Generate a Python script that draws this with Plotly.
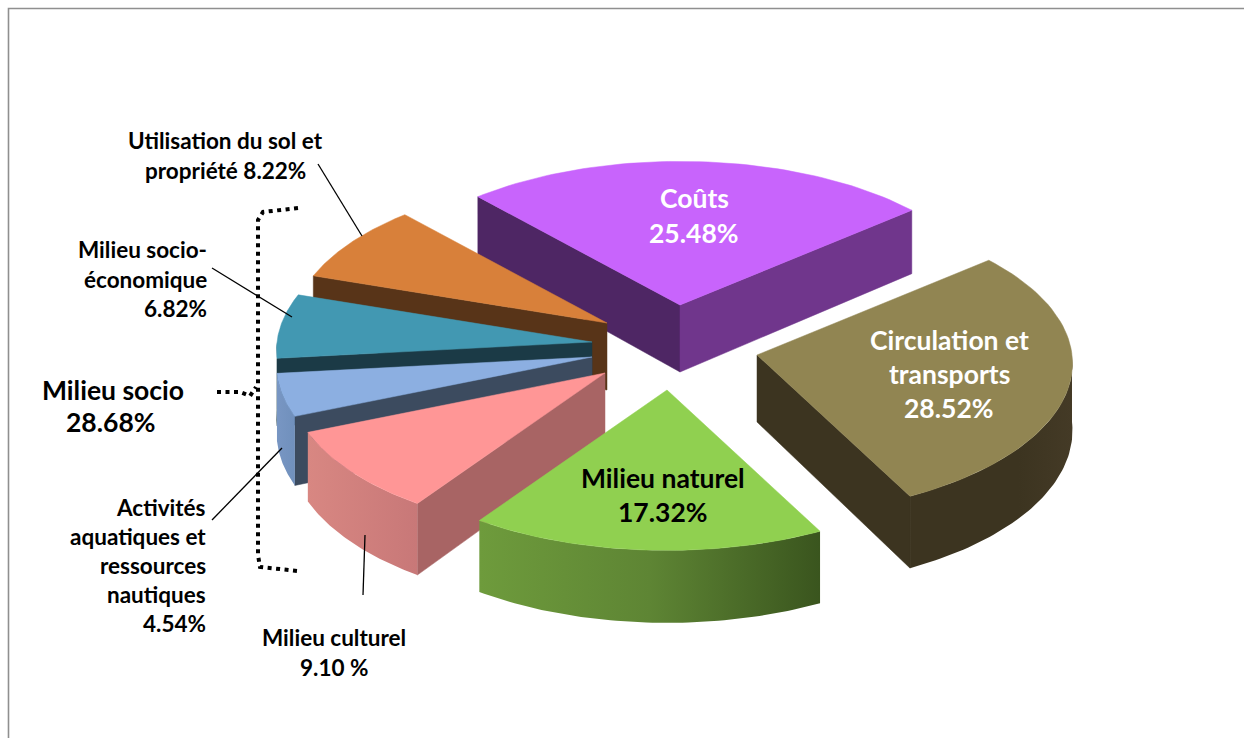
import math
import plotly.graph_objects as go

# ---- data ----
categories = ["Coûts", "Circulation et transports", "Milieu naturel", "Milieu culturel",
              "Activités aquatiques et ressources nautiques", "Milieu socio-économique",
              "Utilisation du sol et propriété"]
values = [25.48, 28.52, 17.32, 9.10, 4.54, 6.82, 8.22]
top_colors = ["#C864FC", "#918552", "#90D050", "#FF9696", "#8CAFE1", "#4298B2", "#D8803A"]
start_face_colors = ["#4E2664", "#3C3420", "#5A8232", "#A86464", "#3C4B5F", "#1B3A46", "#583418"]
end_face_colors = ["#70368C", "#3C3420", "#5A8232", "#A86464", "#3C4B5F", "#1B3A46", "#583418"]
wall_gradients = [
    ["#70368C", "#70368C"],
    ["#3C3420", "#3C3420", "#3C3420", "#443A26"],
    ["#6E9B3C", "#5E8534", "#3A551E"],
    ["#D88782", "#C87878"],
    ["#7896C3", "#7090BC"],
    ["#1B3A46", "#1B3A46"],
    ["#583418", "#583418"],
]
# ---- layout of the exploded pie (pixel space) ----
apexes = [(680, 305), (757, 355), (667, 390), (605, 373), (592, 357), (592, 342), (607, 323)]
draw_order = [0, 6, 5, 4, 3, 2, 1]
START_ANGLE = 132.0
RX, RY, DEPTH, PERSP = 315.0, 152.0, 67.0, 0.055
LARGE, SMALL = 26.5, 22.5

labels = [
    ("Coûts", 694, 198, "center", "white", LARGE),
    ("25.48%", 694, 233, "center", "white", LARGE),
    ("Circulation et", 949, 340, "center", "white", LARGE),
    ("transports", 949, 374, "center", "white", LARGE),
    ("28.52%", 949, 408, "center", "white", LARGE),
    ("Milieu naturel", 663, 478, "center", "black", LARGE),
    ("17.32%", 663, 512, "center", "black", LARGE),
    ("Milieu culturel", 334, 637, "center", "black", SMALL),
    ("9.10 %", 334, 667, "center", "black", SMALL),
    ("Activités", 208, 507, "right", "black", SMALL),
    ("aquatiques et", 208, 536, "right", "black", SMALL),
    ("ressources", 208, 565, "right", "black", SMALL),
    ("nautiques", 208, 594, "right", "black", SMALL),
    ("4.54%", 208, 623, "right", "black", SMALL),
    ("Milieu socio-", 209, 249, "right", "black", SMALL),
    ("économique", 209, 279, "right", "black", SMALL),
    ("6.82%", 209, 308, "right", "black", SMALL),
    ("Utilisation du sol et", 225, 140, "center", "black", SMALL),
    ("propriété 8.22%", 225, 170, "center", "black", SMALL),
    ("Milieu socio", 113, 390, "center", "black", LARGE),
    ("28.68%", 111, 422, "center", "black", LARGE),
]
leaders = [
    [(318, 164), (362, 236)],
    [(212, 268), (292, 317)],
    [(212, 520), (282, 448)],
    [(363, 595), (365, 535)],
]
bracket = [[(298, 208), (275, 210), (263, 212), (258, 220), (258, 555), (260, 567), (298, 571)],
           [(217, 392), (240, 392), (250, 396), (256, 387)]]
frame = [(1244, 8.5), (8.5, 8.5), (8.5, 738)]


def project(apex, theta, drop=0.0):
    s = math.sin(math.radians(theta))
    c = math.cos(math.radians(theta))
    k = 1 - PERSP * s
    depth = DEPTH * (1 - 1.5 * PERSP * s)
    return apex[0] + RX * k * c, apex[1] - RY * k * s + depth * drop


def arc(apex, a0, a1, drop=0.0, n=60):
    return [project(apex, a0 + (a1 - a0) * i / n, drop) for i in range(n + 1)]


def polygon(fig, pts, color=None, gradient=None):
    xs = [p[0] for p in pts] + [pts[0][0]]
    ys = [p[1] for p in pts] + [pts[0][1]]
    kw = dict(x=xs, y=ys, mode="lines", fill="toself", line=dict(width=0.5, color=color or gradient[0]),
              hoverinfo="skip", showlegend=False)
    if gradient:
        scale = [[i / (len(gradient) - 1), col] for i, col in enumerate(gradient)]
        kw["fillgradient"] = dict(type="horizontal", colorscale=scale)
        kw["line"] = dict(width=0)
    else:
        kw["fillcolor"] = color
    fig.add_trace(go.Scatter(**kw))


def face(fig, apex, theta, color):
    top = project(apex, theta)
    bot = project(apex, theta, 1)
    a = (apex[0], apex[1])
    a2 = (apex[0], apex[1] + DEPTH)
    polygon(fig, [a, top, bot, a2], color)


fig = go.Figure()

# angular spans, clockwise, derived from the values
spans = []
ang = START_ANGLE
for v in values:
    spans.append((ang, ang - v * 3.6))
    ang -= v * 3.6

for i in draw_order:
    a0, a1 = spans[i]
    apex = apexes[i]
    # cut faces turned towards the viewer
    if math.sin(math.radians(a0 + 90)) < 0:
        face(fig, apex, a0, start_face_colors[i])
    if math.sin(math.radians(a1 - 90)) < 0:
        face(fig, apex, a1, end_face_colors[i])
    # outer wall: only the front half of the rim
    lo = a1
    hi = a0
    segs = []
    for base in (0, -360):
        w0 = min(hi, base)
        w1 = max(lo, base - 180)
        if w0 > w1:
            segs.append((w0, w1))
    for w0, w1 in segs:
        pts = arc(apex, w0, w1) + arc(apex, w1, w0, 1)
        polygon(fig, pts, gradient=wall_gradients[i])
    # top surface
    polygon(fig, [apex] + arc(apex, a0, a1), top_colors[i])

for seg in leaders:
    fig.add_trace(go.Scatter(x=[p[0] for p in seg], y=[p[1] for p in seg], mode="lines",
                             line=dict(color="black", width=1.3), hoverinfo="skip", showlegend=False))
for seg in bracket:
    fig.add_trace(go.Scatter(x=[p[0] for p in seg], y=[p[1] for p in seg], mode="lines",
                             line=dict(color="black", width=4, dash="4px,4.5px"),
                             hoverinfo="skip", showlegend=False))
fig.add_trace(go.Scatter(x=[p[0] for p in frame], y=[p[1] for p in frame], mode="lines",
                         line=dict(color="#8f8f8f", width=1.6), hoverinfo="skip", showlegend=False))

annotations = [
    dict(text=t, x=x, y=y, xref="x", yref="y", xanchor=anchor, yanchor="middle", showarrow=False,
         font=dict(family="Lato", size=size, color=col, weight="bold"))
    for t, x, y, anchor, col, size in labels
]

fig.update_layout(
    width=1244, height=738, margin=dict(l=0, r=0, t=0, b=0),
    paper_bgcolor="white", plot_bgcolor="white",
    xaxis=dict(range=[0, 1244], visible=False, fixedrange=True),
    yaxis=dict(range=[738, 0], visible=False, fixedrange=True),
    annotations=annotations, showlegend=False,
)
fig.write_html("out.html", config={"displayModeBar": False},
               post_script="document.body.style.margin='0';document.body.style.overflow='hidden';")
